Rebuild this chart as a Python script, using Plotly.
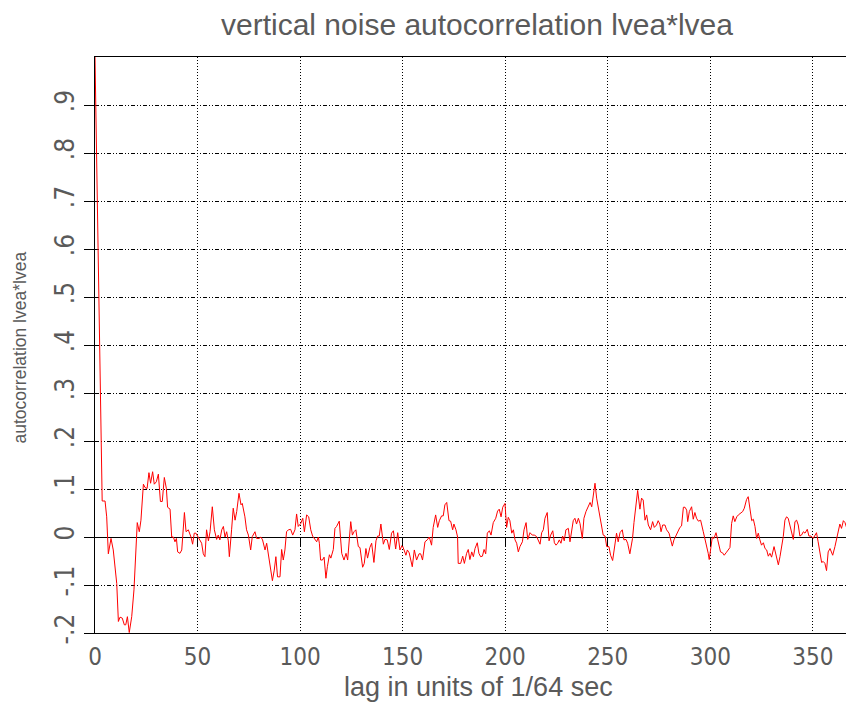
import plotly.graph_objects as go

# lag (units of 1/64 s) and autocorrelation values
lag = [0, 1, 2, 3, 3.5, 4.9, 5.7, 6.5, 7.8, 8.9, 10.6, 11.4, 12.2, 13.3, 14.3, 15.0, 15.8, 16.7, 17.9, 19.0,
       19.8, 20.6, 21.6, 22.4, 23.6, 24.4, 25.4, 26.3, 27.1, 28.1, 28.9, 29.9, 30.9, 31.9, 32.8, 33.8, 34.8,
       35.4, 36.6, 37.4, 38.2, 39.0, 39.7, 40.3, 41.4, 42.3, 43.6, 44.4, 45.5, 46.8, 47.6, 48.4, 49.2, 49.9,
       51.2, 52.0, 52.8, 53.6, 54.4, 55.3, 56.1, 57.2, 58.2, 59.3, 60.1, 60.9, 61.8, 62.6, 63.4, 64.2, 65.0,
       65.5, 66.6, 67.4, 68.3, 69.1, 70.2, 71.2, 71.8, 73.1, 73.9, 74.8, 75.9, 76.7, 78.0, 78.8, 80.0, 80.9,
       81.7, 82.9, 83.7, 84.8, 85.8, 86.5, 87.4, 88.2, 89.0, 90.2, 91.0, 91.8, 92.6, 93.4, 94.3, 95.4, 96.4,
       97.5, 98.3, 99.1, 100.3, 101.3, 102.1, 103.2, 104.2, 105.2, 106.1, 107.3, 108.1, 108.9, 109.4, 110.0,
       110.9, 111.7, 112.6, 113.3, 114.3, 115.0, 116.2, 117.0, 117.8, 119.1, 120.3, 121.4, 122.4, 123.2,
       124.7, 125.5, 126.3, 127.2, 128.4, 129.2, 130.5, 131.3, 132.1, 132.9, 134.0, 134.9, 136.0, 137.0,
       137.8, 138.6, 139.4, 140.6, 141.4, 142.5, 143.5, 144.6, 145.5, 146.6, 147.6, 148.7, 149.8, 150.7,
       151.6, 152.3, 153.2, 154.7, 155.7, 156.8, 158.0, 158.8, 159.7, 160.9, 162.0, 163.0, 164.1, 164.9,
       166.1, 167.1, 167.9, 169.0, 169.8, 170.6, 171.5, 172.6, 173.4, 174.4, 175.0, 176.0, 176.8, 177.1,
       178.3, 179.3, 180.1, 181.2, 182.0, 182.8, 183.7, 184.5, 185.3, 186.4, 187.2, 188.0, 188.9, 189.7,
       190.5, 191.3, 192.3, 193.1, 194.2, 195.4, 196.3, 197.1, 198.0, 198.8, 199.9, 200.7, 201.5, 202.3,
       203.2, 204.0, 204.8, 205.6, 206.4, 207.2, 208.4, 209.2, 210.2, 211.0, 212.1, 213.2, 214.2, 215.3,
       216.2, 217.0, 217.8, 218.6, 219.4, 220.5, 221.4, 222.2, 223.2, 224.0, 224.8, 225.6, 226.4, 227.2,
       228.0, 228.8, 229.6, 230.8, 231.6, 232.4, 233.2, 234.0, 234.8, 235.7, 236.5, 237.6, 238.4, 239.4,
       240.2, 241.4, 242.2, 243.0, 243.8, 244.6, 245.4, 246.3, 247.1, 247.8, 248.7, 249.5, 250.6, 251.4,
       252.4, 253.2, 254.3, 255.1, 256.0, 257.1, 257.9, 258.9, 259.7, 260.8, 262.1, 262.8, 263.6, 264.6,
       265.7, 266.5, 267.3, 268.2, 269.0, 269.8, 270.9, 271.9, 272.7, 273.8, 274.6, 275.4, 276.0, 276.8,
       277.9, 278.7, 279.9, 280.7, 281.5, 282.3, 283.3, 284.4, 285.2, 286.0, 286.9, 287.7, 288.5, 289.0,
       289.8, 290.9, 291.7, 292.5, 293.3, 294.2, 295.3, 296.6, 297.4, 298.2, 299.0, 299.5, 300.3, 301.0,
       301.8, 302.8, 303.6, 304.4, 305.0, 306.0, 306.8, 307.7, 308.8, 309.6, 310.4, 311.2, 312.0, 312.9,
       313.7, 314.8, 315.8, 316.6, 317.7, 318.5, 319.3, 320.2, 321.0, 321.8, 322.6, 323.4, 324.2, 325.0,
       325.9, 326.7, 327.5, 328.3, 329.1, 329.9, 331.1, 332.0, 333.2, 334.0, 334.8, 335.6, 336.4, 337.2,
       338.0, 338.9, 339.7, 340.5, 341.3, 342.1, 342.9, 343.7, 344.5, 345.4, 346.2, 347.3, 348.1, 349.1,
       350.2, 351.0, 351.8, 352.6, 353.5, 354.3, 355.1, 355.9, 356.7, 357.5, 358.4, 359.7, 360.8, 361.6,
       362.4, 363.2, 364.0, 364.9, 365.7, 366.8, 367.8, 368.9, 370.0]

acf = [1.0, 0.72, 0.45, 0.17, 0.075, 0.075, 0.042, -0.035, -0.003, -0.027, -0.097, -0.176, -0.167, -0.169,
       -0.183, -0.183, -0.166, -0.199, -0.166, -0.11,
       -0.027, 0.03, 0.011, 0.035, 0.11, 0.103, 0.101, 0.134, 0.112, 0.136, 0.11, 0.115, 0.131, 0.074, 0.074,
       0.124, 0.101, 0.062, 0.058, 0.0, 0.0, -0.01, -0.003, -0.031, -0.034, -0.027, 0.051, 0.011, 0.015, 0.0,
       -0.015, 0.008, 0.008, 0.002,
       -0.008, -0.013, -0.035, -0.041, 0.015, -0.008, 0.011, 0.063, 0.015, -0.005, 0.004, -0.006, 0.015,
       0.022, 0.0, 0.011, -0.008,
       -0.041, 0.015, 0.06, 0.035, 0.053, 0.091, 0.067, 0.07, 0.042, 0.015, 0.004, -0.027, 0.001, 0.011,
       -0.003, -0.003, 0.0,
       -0.006, -0.027, -0.013, -0.041, -0.069, -0.091, -0.069, -0.041, -0.083, -0.083, -0.026, -0.048,
       -0.027, 0.011, 0.015, 0.016, 0.004,
       0.015, 0.048, 0.022, 0.028, 0.039, 0.011, 0.046, 0.042, 0.015, 0.002, -0.006, -0.01, 0.0, -0.013,
       -0.048,
       -0.048, -0.042, -0.086, -0.062, -0.037, -0.044, -0.026, 0.018, 0.022, 0.033, -0.034, -0.048, -0.034,
       -0.048,
       0.032, 0.004, 0.011, 0.015, -0.02, -0.022, -0.063, -0.055, -0.024, -0.044, -0.022, -0.013, -0.053,
       -0.008,
       0.002, 0.002, 0.027, -0.015, -0.005, -0.006, -0.026, 0.008, 0.013, -0.025, 0.009, -0.027, -0.017,
       -0.027,
       -0.038, -0.027, -0.033, -0.062, -0.027, -0.048, -0.035, -0.035, -0.048, -0.01, -0.006, 0.0, -0.017,
       0.02,
       0.046, 0.02, 0.034, 0.044, 0.044, 0.067, 0.072, 0.034, 0.033, 0.015, 0.027, 0.015, 0.0, -0.055,
       -0.055, -0.04, -0.055, -0.034, -0.026, -0.047, -0.031, -0.041, -0.024, -0.012, -0.034, -0.041, -0.04,
       -0.026,
       -0.035, 0.008, 0.013, 0.004, 0.03, 0.039, 0.054, 0.058, 0.042, 0.062, 0.07, 0.02, 0.041, 0.034,
       0.008, 0.015, -0.006, -0.013, -0.031, -0.02, -0.01, 0.015, 0.03, -0.005, 0.009, 0.004, 0.004, 0.001,
       -0.006, -0.015, 0.009, 0.015, 0.039, 0.051, -0.008, 0.004, 0.013, -0.012, -0.017, -0.013, -0.006,
       -0.013,
       0.002, -0.008, 0.015, 0.018, -0.01, 0.016, 0.034, 0.039, 0.027, 0.039, 0.028, -0.003, 0.039, 0.053,
       0.06, 0.072, 0.063, 0.091, 0.112, 0.081, 0.06, 0.042, 0.025, 0.004, 0.002, -0.02, -0.02, -0.038,
       -0.049, -0.027, 0.008, -0.01, 0.009, 0.015, -0.006, -0.005, -0.013, -0.035, -0.003, 0.03, 0.063,
       0.097,
       0.058, 0.081, 0.077, 0.035, 0.046, 0.025, 0.015, 0.032, 0.02, 0.025, 0.034, 0.027, 0.011, 0.025,
       0.025, 0.015, 0.008, -0.008, -0.019, -0.006, 0.004, 0.015, 0.02, 0.023, 0.062, 0.062, 0.056, 0.032,
       0.053, 0.063, 0.037, 0.051, 0.039, 0.033, 0.035, 0.011, -0.003, -0.02, -0.034, -0.047, -0.02, 0.0,
       -0.003, 0.009, -0.005, -0.024, -0.031, -0.033, -0.038, -0.033, -0.026, -0.022, 0.028, 0.044, 0.032,
       0.042,
       0.046, 0.049, 0.053, 0.06, 0.078, 0.084, 0.056, 0.034, 0.037, 0.022, -0.003, 0.008, -0.006, -0.017,
       -0.012, -0.024, -0.027, -0.04, -0.034, -0.042, -0.02, -0.034, -0.058, -0.041, -0.02, 0.001, 0.035,
       0.042,
       0.039, 0.025, 0.009, -0.005, 0.032, 0.035, 0.025, 0.002, 0.004, 0.011, 0.008, 0.016, 0.002, 0.002,
       -0.003, 0.004, 0.009, -0.01, -0.033, -0.053, -0.051, -0.055, -0.07, -0.031, -0.024, -0.038, -0.02,
       -0.006,
       0.011, 0.027, 0.018, 0.034, 0.03, 0.015, 0.042, 0.034, 0.025]

x_ticks = [0, 50, 100, 150, 200, 250, 300, 350]
x_ticktext = ["0", "50", "100", "150", "200", "250", "300", "350"]
y_ticks = [-0.2, -0.1, 0, 0.1, 0.2, 0.3, 0.4, 0.5, 0.6, 0.7, 0.8, 0.9]
y_ticktext = ["-.2", "-.1", "0", ".1", ".2", ".3", ".4", ".5", ".6", ".7", ".8", ".9"]

title_text = "vertical noise autocorrelation lvea*lvea"
x_title = "lag in units of 1/64 sec"
y_title = "autocorrelation lvea*lvea"

x_range = [0, 369.6]
y_range = [-0.2, 1.0]

TXT = "#5a5a5a"
TICKFONT = dict(family="Liberation Sans Narrow, DejaVu Sans Condensed, Arial Narrow, sans-serif",
                size=24, color=TXT)
LABFONT = "Liberation Sans, Arial, sans-serif"

fig = go.Figure()
fig.add_trace(go.Scatter(x=lag, y=acf, mode="lines", line=dict(color="#ff0000", width=1),
                         hoverinfo="x+y", showlegend=False))
# helper trace so the tick-only axis on the zero line is drawn
fig.add_trace(go.Scatter(x=[None], y=[None], xaxis="x2", yaxis="y", mode="lines",
                         showlegend=False, hoverinfo="skip"))

# the page body adds an 8px offset, so the figure is 8px smaller and margins shifted
fig.update_layout(
    width=846, height=699,
    margin=dict(l=87, r=1, t=49, b=74, autoexpand=False),
    paper_bgcolor="white", plot_bgcolor="white",
    showlegend=False,
    xaxis=dict(range=x_range, tickvals=x_ticks, ticktext=x_ticktext, ticks="",
               ticklabelstandoff=2, tickfont=TICKFONT, automargin=False,
               showgrid=True, gridcolor="black", gridwidth=1, griddash="1px,2px",
               zeroline=False, showline=True, linecolor="black", linewidth=1, mirror=True),
    xaxis2=dict(range=x_range, overlaying="x", anchor="free", position=1/6, side="bottom",
                tickvals=x_ticks[1:], ticks="outside", ticklen=8, tickcolor="black", tickwidth=1,
                automargin=False,
                showticklabels=False, showgrid=False, zeroline=False, showline=False),
    yaxis=dict(range=y_range, tickvals=y_ticks, ticktext=y_ticktext, tickangle=-90,
               ticks="outside", ticklen=10, tickcolor="black", tickwidth=1,
               tickfont=dict(TICKFONT, size=26),
               automargin=False,
               showgrid=True, gridcolor="black", gridwidth=1, griddash="4px,2px,1px,2px,1px,2px",
               zeroline=True, zerolinecolor="black", zerolinewidth=1,
               showline=True, linecolor="black", linewidth=1, mirror=True),
    annotations=[
        dict(text=title_text, xref="paper", yref="paper", x=0.5046, y=1.0608,
             xanchor="center", yanchor="middle", showarrow=False, yshift=-3,
             font=dict(family=LABFONT, size=30, color=TXT)),
        dict(text=x_title, xref="paper", yref="paper", x=0.5053, y=-0.0885,
             xanchor="center", yanchor="middle", showarrow=False, yshift=-3,
             font=dict(family=LABFONT, size=27, color=TXT)),
        dict(text=y_title, xref="paper", yref="paper", x=-0.0983, y=0.4965,
             xanchor="center", yanchor="middle", showarrow=False, textangle=-90,
             font=dict(family=LABFONT, size=17.5, color=TXT)),
    ],
)

fig.write_html("out.html")
